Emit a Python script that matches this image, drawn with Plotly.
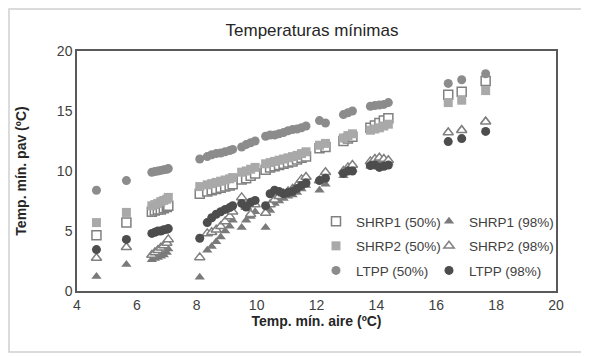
import plotly.graph_objects as go

# Air minimum temperature (x), shared by all series
air = [4.65, 5.65,
       6.5, 6.6, 6.7, 6.8, 6.9, 7.0, 7.05,
       8.1,
       8.35, 8.5, 8.65, 8.8, 8.95, 9.1, 9.2,
       9.5, 9.65, 9.8, 9.95,
       10.3,
       10.45, 10.6, 10.75, 10.9, 11.05, 11.2, 11.35, 11.5, 11.65,
       12.1, 12.3,
       12.9, 13.05, 13.2,
       13.8, 13.95, 14.1, 14.25, 14.4,
       16.4, 16.85, 17.65]

shrp1_50 = [4.65, 5.7,
            6.6, 6.7, 6.8, 6.8, 6.9, 7.0, 7.1,
            8.1,
            8.3, 8.4, 8.5, 8.6, 8.7, 8.8, 8.9,
            9.3, 9.4, 9.6, 9.8,
            10.1,
            10.3, 10.4, 10.5, 10.6, 10.7, 10.8, 10.95, 11.1, 11.2,
            11.9, 12.0,
            12.5, 12.7, 12.85,
            13.6, 13.8, 14.0, 14.2, 14.4,
            16.35, 16.6, 17.5]

shrp1_98 = [1.2, 2.2,
            2.6, 2.7, 2.8, 2.9, 3.0, 3.2, 3.5,
            1.15,
            3.4, 3.7, 4.1, 4.5, 5.0, 5.4, 5.9,
            5.3, 5.9, 6.2, 6.6,
            5.3,
            6.7, 7.3, 7.5, 7.7, 7.9, 8.0, 8.2, 8.5, 8.8,
            8.4, 8.9,
            9.6, 9.9, 10.1,
            10.4, 10.6, 10.8, 10.9, 10.7,
            13.3, 13.5, 14.2]

shrp2_50 = [5.7, 6.55,
            7.1, 7.2, 7.3, 7.45, 7.55, 7.65, 7.8,
            8.7,
            8.85, 8.95, 9.05, 9.15, 9.25, 9.35, 9.45,
            9.9, 10.0, 10.15, 10.3,
            10.6,
            10.7, 10.8, 10.9, 11.0, 11.1, 11.2, 11.3, 11.45, 11.6,
            12.15, 12.3,
            12.75, 12.95, 13.1,
            13.4, 13.5, 13.6, 13.75, 13.9,
            15.7, 15.9, 16.7]

shrp2_98 = [2.75, 3.65,
            3.0, 3.2, 3.4, 3.6, 3.8, 4.0, 4.3,
            2.8,
            4.8, 4.9, 5.1, 5.4, 5.8, 6.2, 6.6,
            7.8, 7.0, 6.4, 7.2,
            6.5,
            7.2, 7.6, 7.9, 8.1, 8.3, 8.5, 8.8, 9.3, 9.5,
            9.2, 9.9,
            10.0, 10.3, 10.5,
            10.8, 11.0, 11.1, 11.0, 10.9,
            13.2, 13.4, 14.1]

ltpp_50 = [8.4, 9.2,
           9.9, 9.95, 10.0, 10.05, 10.1, 10.15, 10.2,
           11.0,
           11.2, 11.35, 11.45, 11.5, 11.6, 11.7, 11.8,
           12.0, 12.2, 12.35, 12.5,
           12.9,
           13.0, 13.0, 13.1, 13.2, 13.35, 13.45, 13.5, 13.6, 13.75,
           14.2, 14.0,
           14.7, 14.85, 15.0,
           15.4, 15.45, 15.5, 15.55, 15.7,
           17.3, 17.6, 18.1]

ltpp_98 = [3.45, 4.3,
           4.8, 4.9, 5.0, 5.0, 5.1, 5.15, 5.2,
           4.4,
           5.7, 6.1, 6.4, 6.6, 6.8, 6.95, 7.1,
           7.3, 7.0, 7.4, 7.55,
           7.1,
           8.1, 8.4, 8.3, 8.1, 8.2, 8.3, 8.55, 8.8, 9.0,
           9.2, 9.4,
           9.8, 10.0, 10.0,
           10.45, 10.5, 10.3, 10.4, 10.5,
           12.45, 12.7, 13.3]

x_ticks = [4, 6, 8, 10, 12, 14, 16, 18, 20]
y_ticks = [0, 5, 10, 15, 20]

# page body adds an 8px margin, so the figure is 8px smaller than the window
W, H = 581, 348
ML, MR, MT, MB = 69, 33, 43, 65
PW, PH = W - ML - MR, H - MT - MB

series = [
    ("SHRP1 (50%)", shrp1_50, "square", "white", "#808080", 1.5, "legend"),
    ("SHRP1 (98%)", shrp1_98, "triangle-up", "#7a7a7a", "#7a7a7a", 0, "legend2"),
    ("SHRP2 (50%)", shrp2_50, "square", "#a9a9a9", "#a9a9a9", 0, "legend"),
    ("SHRP2 (98%)", shrp2_98, "triangle-up", "white", "#808080", 1.5, "legend2"),
    ("LTPP (50%)", ltpp_50, "circle", "#8c8c8c", "#8c8c8c", 0, "legend"),
    ("LTPP (98%)", ltpp_98, "circle", "#4d4d4d", "#4d4d4d", 0, "legend2"),
]

fig = go.Figure()
for name, ys, sym, fill, line, lw, lg in series:
    fig.add_trace(go.Scatter(
        x=air, y=ys, mode="markers", name=name, legend=lg, legendgroup=name,
        marker=dict(symbol=sym, size=9, color=fill,
                    line=dict(color=line, width=lw)),
    ))

font_main = "Liberation Sans, Arial, sans-serif"
leg_top = 198
leg_common = dict(orientation="v", xanchor="left", yanchor="top",
                  y=(H - MB - leg_top) / PH,
                  bgcolor="rgba(0,0,0,0)", borderwidth=0,
                  font=dict(family=font_main, size=13.5, color="#404040"),
                  itemwidth=30, tracegroupgap=4)

fig.update_layout(
    width=W, height=H,
    margin=dict(l=ML, r=MR, t=MT, b=MB, autoexpand=False),
    paper_bgcolor="white", plot_bgcolor="white",
    title=dict(text="Temperaturas mínimas", x=(304 - ML) / PW, xref="paper",
               xanchor="center", y=1 - 22 / H, yanchor="middle",
               font=dict(family=font_main, size=17, color="#262626")),
    legend=dict(x=(308 - ML) / PW, **leg_common),
    legend2=dict(x=(421 - ML) / PW, **leg_common),
    xaxis=dict(range=[4, 20], tickvals=x_ticks, ticktext=[str(v) for v in x_ticks],
               showgrid=False, zeroline=False, showline=True, mirror=True,
               linecolor="#595959", linewidth=1.5, ticks="", automargin=True,
               tickfont=dict(family=font_main, size=14, color="#404040"),
               title=dict(text="Temp. mín. aire (ºC)", standoff=1,
                          font=dict(family=font_main, size=14, color="#262626",
                                    weight="bold"))),
    yaxis=dict(range=[0, 20], tickvals=y_ticks, ticktext=[str(v) for v in y_ticks],
               showgrid=False, zeroline=False, showline=True, mirror=True,
               linecolor="#595959", linewidth=1.5, ticks="",
               tickfont=dict(family=font_main, size=14, color="#404040"),
               title=dict(text="Temp. mín. pav (ºC)", standoff=27,
                          font=dict(family=font_main, size=14, color="#262626",
                                    weight="bold"))),
    shapes=[dict(type="rect", xref="paper", yref="paper",
                 x0=(1 - ML) / PW, x1=(W - 4 - ML) / PW,
                 y0=-(MB - 4) / PH, y1=1 + (MT - 1) / PH,
                 line=dict(color="#d0d0d0", width=1.5), fillcolor="rgba(0,0,0,0)",
                 layer="below")],
)

fig.write_html("out.html")
